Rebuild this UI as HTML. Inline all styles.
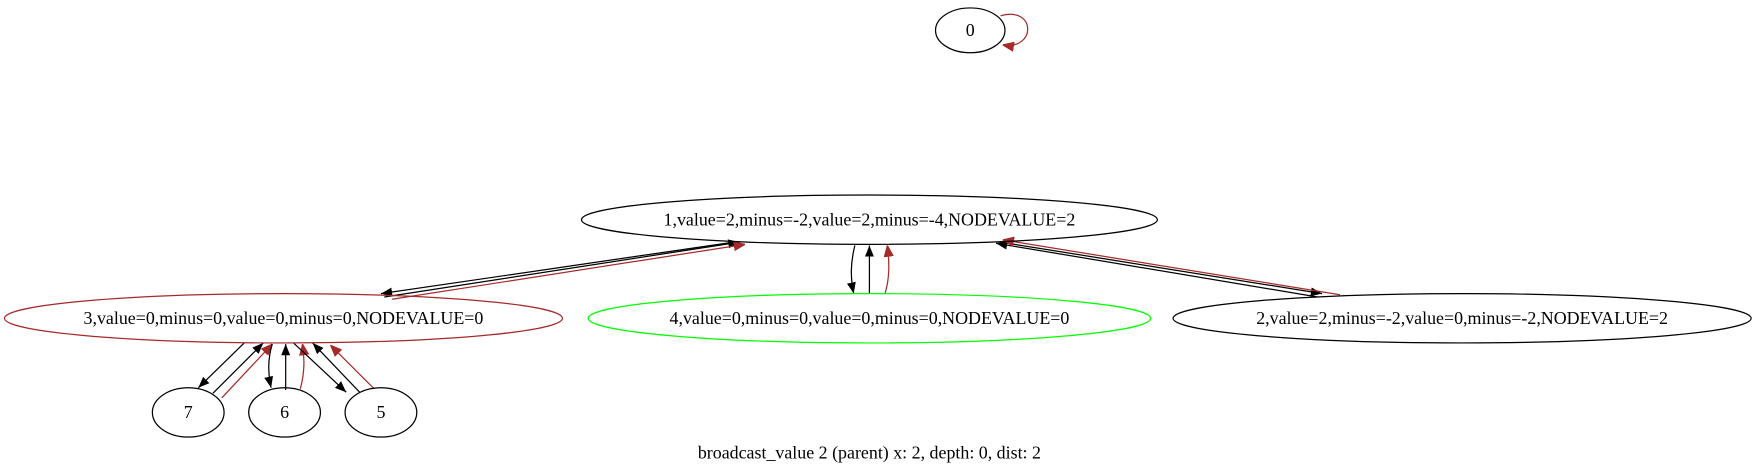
<!DOCTYPE html>
<html><head><meta charset="utf-8"><style>
html,body{margin:0;padding:0;background:#fff;}
svg{display:block;}
text{font-family:"Liberation Serif",serif;font-size:16px;}
</style></head><body>
<svg id="g" width="1759" height="473" viewBox="0 0 1570 422" xmlns="http://www.w3.org/2000/svg">
<defs>
<marker id="ak" viewBox="0 0 10 10" refX="10" refY="5" markerWidth="10" markerHeight="10" markerUnits="userSpaceOnUse" orient="auto"><path d="M0,1 L10,5 L0,9 z" fill="#000"/></marker>
<marker id="ar" viewBox="0 0 10 10" refX="10" refY="5" markerWidth="10" markerHeight="10" markerUnits="userSpaceOnUse" orient="auto"><path d="M0,1 L10,5 L0,9 z" fill="#a52a2a" stroke="#a52a2a"/></marker>
</defs>
<g id="edges"></g>
<g id="nodes"></g>
<text x="776" y="409" text-anchor="middle">broadcast_value 2 (parent) x: 2, depth: 0, dist: 2</text>
</svg>
<script>
const nodeIds = ['0','1','3','4','2','7','6','5'];
const nodeLabels = ['0','1,value=2,minus=-2,value=2,minus=-4,NODEVALUE=2','3,value=0,minus=0,value=0,minus=0,NODEVALUE=0','4,value=0,minus=0,value=0,minus=0,NODEVALUE=0','2,value=2,minus=-2,value=0,minus=-2,NODEVALUE=2','7','6','5'];
const nodeColors = ['#000','#000','#a52a2a','#00ff00','#000','#000','#000','#000'];
const nodeGeom = [[866,27,31,20],[776,196,257,22],[253,284,249,22],[776,284,251,22],[1305,284,258,22],[168,368,32,22],[254,368,32,22],[340,368,32,22]];
const edgeFrom = ['1','3','3','1','4','4','1','2','2','3','7','7','3','6','6','3','5','5','0'];
const edgeTo   = ['3','1','1','4','1','1','2','1','1','7','3','3','6','3','3','5','3','3','0'];
const edgeColor= ['k','k','r','k','k','r','k','k','r','k','k','r','k','k','r','k','k','r','r'];
const edgePath = [
'M655,216 L340,262','M343,265 L660,216','M350,267 L665,218',
'M763,219 C759,235 759,248 762,262','M776,262 L776,219','M790,262 C794,248 794,235 792,219',
'M893,216 L1180,262','M1176,265 L889,217','M1196,263 L895,214',
'M218,306 L177,346','M190,351 L235,306','M198,355 L243,307',
'M243,307 C239,320 239,333 242,346','M255,348 L255,307','M268,347 C272,333 272,320 270,307',
'M262,306 L309,350','M321,350 L279,306','M334,347 L295,308',
'M893,14 C925,5 925,45 895,40'];
const NS='http://www.w3.org/2000/svg';
const eg=document.getElementById('edges'), ng=document.getElementById('nodes');
for(let i=0;i<edgePath.length;i++){
  const p=document.createElementNS(NS,'path');
  p.setAttribute('d',edgePath[i]);
  p.setAttribute('fill','none');
  p.setAttribute('stroke',edgeColor[i]==='r'?'#a52a2a':'#000');
  p.setAttribute('stroke-width','1.1');
  p.setAttribute('marker-end',edgeColor[i]==='r'?'url(#ar)':'url(#ak)');
  
  
  eg.appendChild(p);
}
for(let i=0;i<nodeIds.length;i++){
  const g=document.createElementNS(NS,'g');
  
  
  const [cx,cy,rx,ry]=nodeGeom[i];
  const e=document.createElementNS(NS,'ellipse');
  e.setAttribute('cx',cx);e.setAttribute('cy',cy);e.setAttribute('rx',rx);e.setAttribute('ry',ry);
  e.setAttribute('fill','none');e.setAttribute('stroke',nodeColors[i]);e.setAttribute('stroke-width','1.1');
  
  
  const t=document.createElementNS(NS,'text');
  t.setAttribute('x',cx);t.setAttribute('y',cy+5);t.setAttribute('text-anchor','middle');
  t.textContent=nodeLabels[i];
  
  
  g.appendChild(e);g.appendChild(t);ng.appendChild(g);
}
</script>
</body></html>
